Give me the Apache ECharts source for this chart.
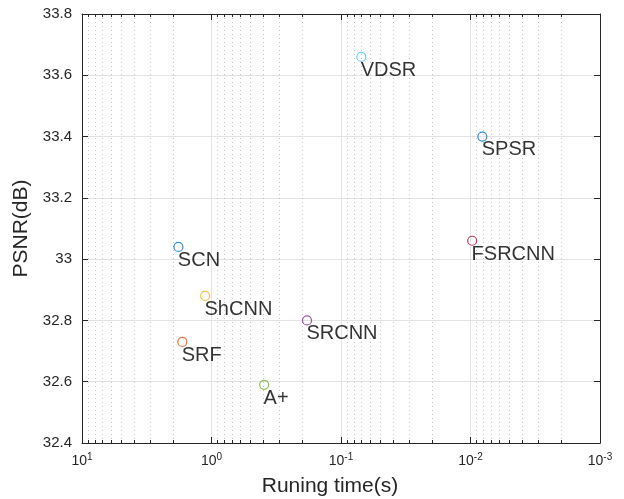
<!DOCTYPE html>
<html>
<head>
<meta charset="utf-8">
<script src="https://cdn.jsdelivr.net/npm/echarts@6/dist/echarts.min.js"></script>
<style>
html,body{margin:0;padding:0;background:#fff;}
#main{width:624px;height:499px;}
</style>
</head>
<body>
<div id="main"></div>
<script>
// ---- data ----
const methods  = ['VDSR', 'SPSR', 'SCN', 'FSRCNN', 'ShCNN', 'SRCNN', 'SRF', 'A+'];
const runTimes = [0.0697, 0.0081, 1.80, 0.0097, 1.12, 0.183, 1.68, 0.392];
const psnr     = [33.66, 33.40, 33.04, 33.06, 32.88, 32.80, 32.73, 32.59];
const colors   = ['#4DBEEE', '#0072BD', '#0072BD', '#A2142F', '#EDB120', '#7E2F8E', '#D95319', '#77AC30'];

const xTickValues    = [10, 1, 0.1, 0.01, 0.001];
const xTickExponents = ['1', '0', '-1', '-2', '-3'];
const yTickValues    = [32.4, 32.6, 32.8, 33, 33.2, 33.4, 33.6, 33.8];
const minorTicks = [
  0.002, 0.003, 0.004, 0.005, 0.006, 0.007, 0.008, 0.009,
  0.02, 0.03, 0.04, 0.05, 0.06, 0.07, 0.08, 0.09,
  0.2, 0.3, 0.4, 0.5, 0.6, 0.7, 0.8, 0.9,
  2, 3, 4, 5, 6, 7, 8, 9
];

const FONT = '"Liberation Sans", Arial, Helvetica, sans-serif';
const AX = '#262626';
const yMin = yTickValues[0], yMax = yTickValues[yTickValues.length - 1];

function xLabel(v) {
  let best = 0;
  for (let i = 0; i < xTickValues.length; i++) {
    if (Math.abs(Math.log10(v) - Math.log10(xTickValues[i])) <
        Math.abs(Math.log10(v) - Math.log10(xTickValues[best]))) best = i;
  }
  return '{b|10}{s|' + xTickExponents[best] + '}';
}

const chart = echarts.init(document.getElementById('main'), null, {renderer: 'canvas'});

const xCommon = {
  type: 'log', logBase: 10, inverse: true, min: 0.001, max: 10, splitNumber: 4,
  axisLine: {show: true, lineStyle: {color: AX, width: 1}},
  axisTick: {show: true, inside: true, length: 6, lineStyle: {color: AX, width: 1}}
};
const yCommon = {
  type: 'value', min: yMin, max: yMax, interval: 0.2,
  axisLine: {show: true, lineStyle: {color: AX, width: 1}},
  axisTick: {show: true, inside: true, length: 6, lineStyle: {color: AX, width: 1}}
};

const pointSeries = methods.map((m, i) => ({
  name: m,
  type: 'scatter',
  xAxisIndex: 0, yAxisIndex: 0,
  symbol: 'circle',
  symbolSize: 9,
  z: 5,
  itemStyle: {color: 'rgba(255,255,255,0)', borderColor: colors[i], borderWidth: 1.2},
  label: {
    show: true,
    formatter: m,
    position: [4.5, 18.5],
    align: 'left',
    verticalAlign: 'middle',
    color: '#000',
    fontFamily: FONT,
    fontSize: 20
  },
  data: [[runTimes[i], psnr[i]]]
}));

const option = {
  backgroundColor: '#fff',
  animation: false,
  grid: {left: 82, right: 24, top: 14, bottom: 56, containLabel: false, outerBoundsMode: 'none'},
  xAxis: [
    Object.assign({}, xCommon, {
      position: 'bottom',
      name: 'Runing time(s)',
      nameLocation: 'middle',
      nameGap: 33,
      nameTextStyle: {fontFamily: FONT, fontSize: 21, color: AX, padding: [0, 22, 0, 0]},
      axisLabel: {
        show: true, margin: 9, formatter: xLabel, color: AX,
        rich: {
          b: {fontFamily: FONT, fontSize: 14, lineHeight: 18, color: AX},
          s: {fontFamily: FONT, fontSize: 10, lineHeight: 9, verticalAlign: 'top', color: AX}
        }
      },
      splitLine: {show: true, lineStyle: {color: '#e3e3e3', width: 1}}
    }),
    Object.assign({}, xCommon, {
      position: 'top',
      axisLabel: {show: false},
      splitLine: {show: false}
    })
  ],
  yAxis: [
    Object.assign({}, yCommon, {
      position: 'left',
      name: 'PSNR(dB)',
      nameLocation: 'middle',
      nameGap: 49,
      nameTextStyle: {fontFamily: FONT, fontSize: 21, color: AX},
      axisLabel: {show: true, margin: 10, color: AX, fontFamily: FONT, fontSize: 15},
      splitLine: {show: true, lineStyle: {color: '#e3e3e3', width: 1}}
    }),
    Object.assign({}, yCommon, {
      position: 'right',
      axisLabel: {show: false},
      splitLine: {show: false}
    })
  ],
  series: [{
    type: 'custom',
    xAxisIndex: 0, yAxisIndex: 0,
    silent: true,
    z: 1,
    data: minorTicks.map(v => [v, yMin]),
    renderItem: function (params, api) {
      const x = Math.round(api.coord([api.value(0), yMin])[0]) + 0.5;
      const cs = params.coordSys;
      const top = cs.y, bot = cs.y + cs.height;
      return {
        type: 'group',
        children: [
          {type: 'line', shape: {x1: x, y1: top, x2: x, y2: bot},
           style: {stroke: '#c4c4c4', lineWidth: 1, lineDash: [1, 3]}},
          {type: 'line', shape: {x1: x, y1: bot, x2: x, y2: bot - 3},
           style: {stroke: AX, lineWidth: 1}},
          {type: 'line', shape: {x1: x, y1: top, x2: x, y2: top + 3},
           style: {stroke: AX, lineWidth: 1}}
        ]
      };
    }
  }].concat(pointSeries)
};

chart.setOption(option);
</script>
</body>
</html>
